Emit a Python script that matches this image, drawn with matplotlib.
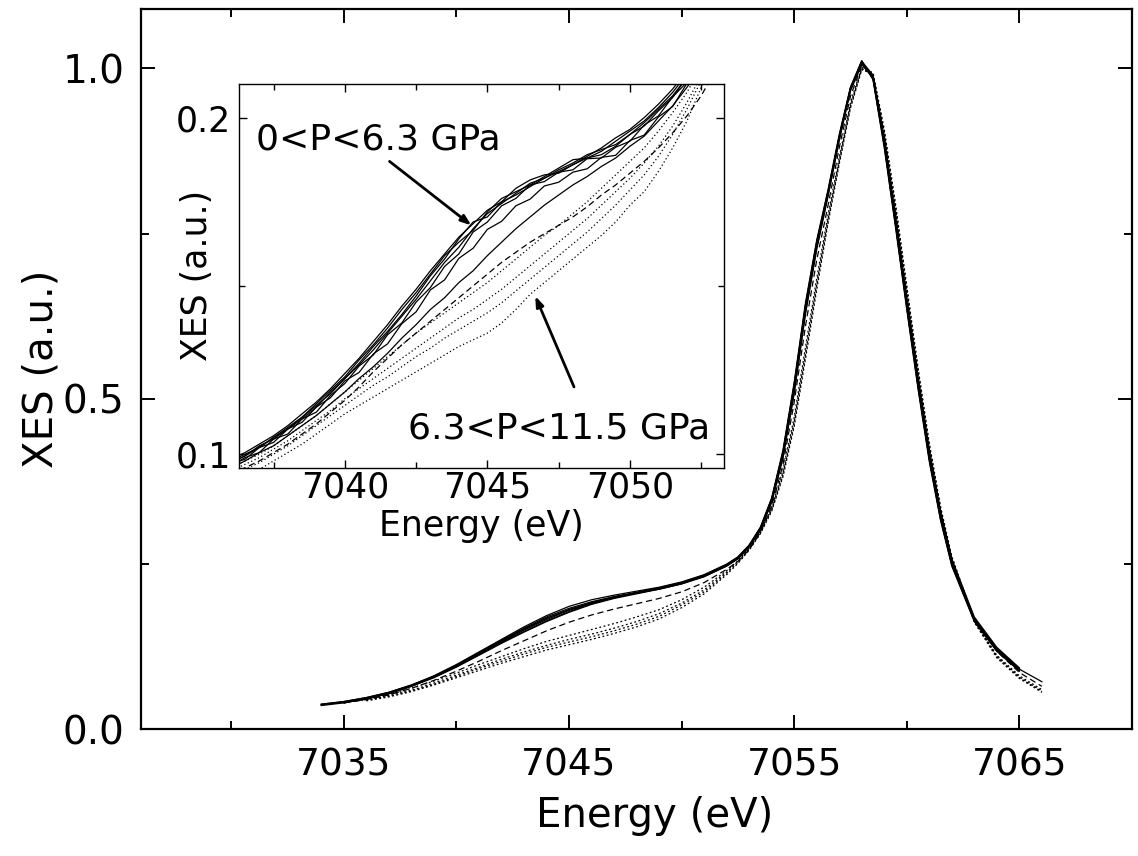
import numpy as np
import matplotlib.pyplot as plt
from matplotlib.ticker import MultipleLocator

plt.rcParams['font.family'] = ['DejaVu Sans']

nan = np.nan

# main panel: energy grid (eV) and normalised XES curves
E_MAIN = [7034, 7035, 7036, 7037, 7038, 7039, 7040, 7041, 7042, 7043, 7044,
          7045, 7046, 7047, 7048, 7049, 7050, 7051, 7052, 7052.5, 7053,
          7053.5, 7054, 7054.5, 7055, 7055.5, 7056, 7056.5, 7057, 7057.5,
          7058, 7058.5, 7059, 7059.5, 7060, 7060.5, 7061, 7061.5, 7062,
          7063, 7064, 7065, 7066]

main_solid = [
    [0.037, 0.041, 0.047, 0.055, 0.066, 0.080, 0.097, 0.116, 0.135, 0.153, 0.170, 0.183, 0.193, 0.201, 0.207, 0.213, 0.221, 0.232,
     0.248, 0.259, 0.277, 0.304, 0.348, 0.418, 0.520, 0.640, 0.735, 0.812, 0.896, 0.970, 1.010, 0.985, 0.885, 0.765, 0.640, 0.520, 0.410, 0.320, 0.250,
     0.165, 0.120, 0.090, nan],
    [0.036, 0.040, 0.046, 0.054, 0.065, 0.078, 0.094, 0.112, 0.130, 0.147, 0.163, 0.177, 0.189, 0.198, 0.205, 0.212, 0.220, 0.231,
     0.247, 0.258, 0.276, 0.302, 0.345, 0.412, 0.510, 0.630, 0.728, 0.808, 0.893, 0.968, 1.008, 0.988, 0.892, 0.772, 0.648, 0.528, 0.418, 0.326, 0.255,
     0.168, 0.122, 0.092, nan],
    [0.038, 0.042, 0.048, 0.056, 0.067, 0.081, 0.098, 0.117, 0.136, 0.155, 0.172, 0.186, 0.196, 0.203, 0.209, 0.215, 0.223, 0.234,
     0.250, 0.261, 0.279, 0.306, 0.350, 0.422, 0.525, 0.645, 0.740, 0.816, 0.900, 0.972, 1.012, 0.983, 0.880, 0.760, 0.635, 0.515, 0.405, 0.316, 0.247,
     0.163, 0.118, 0.088, nan],
    [nan, 0.040, 0.046, 0.054, 0.065, 0.079, 0.095, 0.113, 0.132, 0.150, 0.166, 0.180, 0.190, 0.199, 0.206, 0.213, 0.222, 0.233,
     0.249, 0.260, 0.278, 0.303, 0.346, 0.414, 0.515, 0.635, 0.732, 0.810, 0.894, 0.969, 1.011, 0.990, 0.895, 0.778, 0.655, 0.534, 0.423, 0.330, 0.258,
     0.170, 0.124, 0.093, nan],
    [0.037, 0.041, 0.047, 0.055, 0.066, 0.079, 0.096, 0.114, 0.133, 0.151, 0.168, 0.181, 0.192, 0.200, 0.206, 0.212, 0.220, 0.231,
     0.247, 0.258, 0.276, 0.301, 0.343, 0.410, 0.508, 0.628, 0.726, 0.806, 0.891, 0.966, 1.006, 0.986, 0.890, 0.770, 0.645, 0.525, 0.415, 0.324, 0.253,
     0.166, 0.121, 0.091, 0.072],
    [0.038, 0.042, 0.048, 0.056, 0.067, 0.080, 0.096, 0.113, 0.131, 0.148, 0.164, 0.178, 0.190, 0.199, 0.207, 0.214, 0.222, 0.233,
     0.249, 0.260, 0.278, 0.305, 0.349, 0.420, 0.522, 0.642, 0.738, 0.814, 0.898, 0.971, 1.009, 0.984, 0.883, 0.762, 0.638, 0.518, 0.408, 0.318, 0.248,
     0.164, 0.119, 0.089, nan],
    [nan, 0.041, 0.047, 0.055, 0.066, 0.080, 0.097, 0.115, 0.134, 0.152, 0.168, 0.181, 0.191, 0.200, 0.207, 0.214, 0.222, 0.233,
     0.249, 0.260, 0.278, 0.303, 0.347, 0.416, 0.517, 0.637, 0.733, 0.811, 0.895, 0.969, 1.010, 0.987, 0.888, 0.768, 0.643, 0.523, 0.413, 0.322, 0.252,
     0.166, 0.121, 0.091, nan],
]

main_dashed = [
    [nan, 0.040, 0.045, 0.052, 0.062, 0.074, 0.088, 0.103, 0.119, 0.134, 0.149, 0.162, 0.173, 0.182, 0.190, 0.198, 0.208, 0.222,
     0.242, 0.254, 0.272, 0.298, 0.338, 0.400, 0.495, 0.610, 0.710, 0.792, 0.880, 0.958, 1.005, 0.990, 0.898, 0.780, 0.655, 0.532, 0.420, 0.328, 0.256,
     0.166, 0.118, 0.086, 0.065],
]

main_dotted = [
    [nan, nan, 0.043, 0.049, 0.057, 0.067, 0.078, 0.089, 0.100, 0.110, 0.120, 0.128, 0.136, 0.145, 0.155, 0.167, 0.184, 0.205,
     0.234, 0.251, 0.271, 0.296, 0.330, 0.382, 0.458, 0.560, 0.665, 0.765, 0.855, 0.940, 0.998, 0.992, 0.905, 0.792, 0.668, 0.544, 0.430, 0.335, 0.260,
     0.162, 0.108, 0.077, 0.056],
    [nan, 0.041, 0.045, 0.051, 0.059, 0.070, 0.082, 0.094, 0.106, 0.117, 0.127, 0.136, 0.144, 0.153, 0.163, 0.175, 0.191, 0.211,
     0.238, 0.254, 0.273, 0.298, 0.333, 0.388, 0.466, 0.570, 0.675, 0.772, 0.860, 0.945, 1.000, 0.990, 0.902, 0.788, 0.664, 0.540, 0.427, 0.333, 0.258,
     0.163, 0.110, 0.079, 0.058],
    [nan, nan, 0.044, 0.050, 0.058, 0.068, 0.080, 0.092, 0.103, 0.114, 0.124, 0.132, 0.140, 0.149, 0.159, 0.171, 0.188, 0.208,
     0.236, 0.252, 0.272, 0.297, 0.331, 0.384, 0.462, 0.565, 0.670, 0.768, 0.858, 0.942, 0.999, 0.994, 0.908, 0.795, 0.671, 0.547, 0.433, 0.337, 0.262,
     0.164, 0.110, 0.078, 0.057],
    [nan, 0.040, 0.046, 0.053, 0.062, 0.073, 0.085, 0.098, 0.110, 0.122, 0.133, 0.142, 0.151, 0.160, 0.170, 0.181, 0.196, 0.215,
     0.240, 0.255, 0.274, 0.299, 0.335, 0.392, 0.472, 0.578, 0.682, 0.778, 0.865, 0.948, 1.002, 0.989, 0.899, 0.785, 0.661, 0.538, 0.425, 0.331, 0.257,
     0.164, 0.112, 0.081, 0.060],
]

# inset panel: pre-edge region, as plotted in the inset
E_INSET = [7036.0, 7036.5, 7037.0, 7037.5, 7038.0, 7038.5, 7039.0, 7039.5,
           7040.0, 7040.5, 7041.0, 7041.5, 7042.0, 7042.5, 7043.0, 7043.5,
           7044.0, 7044.5, 7045.0, 7045.5, 7046.0, 7046.5, 7047.0, 7047.5,
           7048.0, 7048.5, 7049.0, 7049.5, 7050.0, 7050.5, 7051.0, 7051.5,
           7052.0, 7052.5, 7053.0]

inset_solid = [
    [0.0975, 0.0995, 0.1025, 0.1045, 0.1075, 0.1105, 0.1140, 0.1185, 0.1225, 0.1270, 0.1320, 0.1365, 0.1415, 0.1470, 0.1530, 0.1580, 0.1640, 0.1690,
     0.1705, 0.1750, 0.1790, 0.1815, 0.1830, 0.1835, 0.1860, 0.1880, 0.1890, 0.1915, 0.1950, 0.1975, 0.2020, 0.2060, 0.2120, 0.2180, 0.2250],
    [0.0965, 0.0990, 0.1005, 0.1045, 0.1060, 0.1105, 0.1125, 0.1175, 0.1210, 0.1262, 0.1295, 0.1355, 0.1390, 0.1452, 0.1495, 0.1558, 0.1595, 0.1660,
     0.1690, 0.1738, 0.1760, 0.1800, 0.1810, 0.1838, 0.1845, 0.1878, 0.1880, 0.1912, 0.1930, 0.1978, 0.2005, 0.2062, 0.2105, 0.2175, 0.2240],
    [0.0980, 0.1000, 0.1020, 0.1050, 0.1080, 0.1110, 0.1150, 0.1190, 0.1230, 0.1280, 0.1325, 0.1375, 0.1430, 0.1480, 0.1535, 0.1590, 0.1630, 0.1665,
     0.1720, 0.1760, 0.1780, 0.1800, 0.1825, 0.1850, 0.1875, 0.1880, 0.1900, 0.1930, 0.1960, 0.1990, 0.2030, 0.2075, 0.2130, 0.2195, 0.2270],
    [0.0972, 0.0985, 0.1020, 0.1035, 0.1075, 0.1095, 0.1140, 0.1168, 0.1218, 0.1243, 0.1298, 0.1328, 0.1388, 0.1423, 0.1488, 0.1518, 0.1582, 0.1612,
     0.1668, 0.1692, 0.1738, 0.1758, 0.1797, 0.1808, 0.1838, 0.1848, 0.1882, 0.1888, 0.1932, 0.1948, 0.2002, 0.2033, 0.2102, 0.2148, 0.2230],
    [0.0975, 0.0995, 0.1020, 0.1050, 0.1075, 0.1110, 0.1145, 0.1180, 0.1225, 0.1265, 0.1310, 0.1360, 0.1410, 0.1460, 0.1515, 0.1570, 0.1615, 0.1670,
     0.1715, 0.1745, 0.1775, 0.1805, 0.1820, 0.1845, 0.1865, 0.1890, 0.1905, 0.1920, 0.1950, 0.1985, 0.2025, 0.2065, 0.2120, 0.2185, 0.2255],
    [0.0960, 0.0980, 0.1005, 0.1025, 0.1055, 0.1085, 0.1115, 0.1150, 0.1185, 0.1225, 0.1260, 0.1300, 0.1345, 0.1385, 0.1430, 0.1465, 0.1510, 0.1545,
     0.1590, 0.1630, 0.1670, 0.1705, 0.1740, 0.1770, 0.1800, 0.1825, 0.1855, 0.1880, 0.1915, 0.1945, 0.1990, 0.2035, 0.2090, 0.2150, 0.2220],
    [0.0985, 0.1005, 0.1030, 0.1055, 0.1085, 0.1120, 0.1155, 0.1195, 0.1240, 0.1285, 0.1335, 0.1385, 0.1440, 0.1490, 0.1545, 0.1595, 0.1645, 0.1685,
     0.1725, 0.1750, 0.1770, 0.1795, 0.1820, 0.1840, 0.1860, 0.1885, 0.1910, 0.1940, 0.1965, 0.2000, 0.2040, 0.2085, 0.2140, 0.2200, 0.2280],
]

inset_dashed = [
    [0.0940, 0.0960, 0.0980, 0.1005, 0.1030, 0.1060, 0.1090, 0.1125, 0.1160, 0.1200, 0.1245, 0.1285, 0.1325, 0.1360, 0.1395, 0.1430, 0.1465, 0.1500,
     0.1535, 0.1570, 0.1600, 0.1630, 0.1655, 0.1680, 0.1705, 0.1735, 0.1770, 0.1800, 0.1835, 0.1870, 0.1910, 0.1955, 0.2005, 0.2065, 0.2140],
]

inset_dotted = [
    [0.0920, 0.0935, 0.0955, 0.0980, 0.1005, 0.1030, 0.1060, 0.1090, 0.1120, 0.1145, 0.1170, 0.1195, 0.1220, 0.1245, 0.1270, 0.1295, 0.1320, 0.1340,
     0.1360, 0.1390, 0.1430, 0.1475, 0.1510, 0.1545, 0.1580, 0.1615, 0.1650, 0.1690, 0.1740, 0.1780, 0.1840, 0.1910, 0.1990, 0.2090, 0.2200],
    [0.0935, 0.0955, 0.0975, 0.1000, 0.1025, 0.1055, 0.1085, 0.1115, 0.1145, 0.1175, 0.1205, 0.1230, 0.1260, 0.1290, 0.1315, 0.1345, 0.1370, 0.1395,
     0.1420, 0.1450, 0.1485, 0.1520, 0.1555, 0.1590, 0.1625, 0.1660, 0.1700, 0.1740, 0.1785, 0.1830, 0.1885, 0.1950, 0.2025, 0.2110, 0.2210],
    [0.0950, 0.0970, 0.0990, 0.1015, 0.1040, 0.1070, 0.1100, 0.1130, 0.1165, 0.1195, 0.1225, 0.1255, 0.1285, 0.1315, 0.1345, 0.1375, 0.1405, 0.1430,
     0.1460, 0.1490, 0.1525, 0.1560, 0.1595, 0.1630, 0.1665, 0.1700, 0.1740, 0.1780, 0.1820, 0.1865, 0.1915, 0.1975, 0.2045, 0.2125, 0.2220],
    [0.0960, 0.0980, 0.1000, 0.1025, 0.1055, 0.1085, 0.1115, 0.1150, 0.1185, 0.1220, 0.1255, 0.1290, 0.1325, 0.1360, 0.1390, 0.1420, 0.1450, 0.1480,
     0.1510, 0.1545, 0.1580, 0.1615, 0.1650, 0.1680, 0.1715, 0.1750, 0.1790, 0.1830, 0.1870, 0.1910, 0.1960, 0.2015, 0.2075, 0.2150, 0.2240],
]

fig = plt.figure(figsize=(11.38, 8.56), dpi=100)

# Main plot
ax = fig.add_axes([0.124, 0.148, 0.8707, 0.8415])
for y in main_solid:
    ax.plot(E_MAIN, y, color='black', lw=0.9, ls='-')
for y in main_dashed:
    ax.plot(E_MAIN, y, color='black', lw=0.9, ls=(0, (5, 3)))
for y in main_dotted:
    ax.plot(E_MAIN, y, color='black', lw=0.9, ls=(0, (1.5, 2)))

ax.set_xlim(7026, 7070)
ax.set_ylim(0, 1.09)
ax.set_xticks([7035, 7045, 7055, 7065])
ax.xaxis.set_minor_locator(MultipleLocator(5))
ax.yaxis.set_major_locator(MultipleLocator(0.5))
ax.yaxis.set_minor_locator(MultipleLocator(0.25))
ax.tick_params(which='both', direction='in', top=True, right=True, width=1.4)
ax.tick_params(which='major', length=10)
ax.tick_params(which='minor', length=6)
ax.tick_params(axis='x', pad=13, labelsize=27)
ax.tick_params(axis='y', pad=12, labelsize=28)
for s in ax.spines.values():
    s.set_linewidth(1.6)
ax.set_xlabel('Energy (eV)', fontsize=29)
ax.set_ylabel('XES (a.u.)', fontsize=29)
ax.xaxis.set_label_coords(0.518, -0.093)
ax.yaxis.set_label_coords(-0.08, 0.5)

# Inset
ins = fig.add_axes([0.2103, 0.4536, 0.4259, 0.4483])
for y in inset_solid:
    ins.plot(E_INSET, y, color='black', lw=0.9, ls='-')
for y in inset_dashed:
    ins.plot(E_INSET, y, color='black', lw=0.9, ls=(0, (5, 3)))
for y in inset_dotted:
    ins.plot(E_INSET, y, color='black', lw=0.9, ls=(0, (1, 2)))

ins.set_xlim(7036.3, 7053.3)
ins.set_ylim(0.096, 0.21)
ins.xaxis.set_major_locator(MultipleLocator(5))
ins.xaxis.set_minor_locator(MultipleLocator(2.5))
ins.yaxis.set_major_locator(MultipleLocator(0.1))
ins.yaxis.set_minor_locator(MultipleLocator(0.05))
ins.tick_params(which='both', direction='in', top=True, right=True, width=1.0)
ins.tick_params(which='major', length=6, labelsize=25)
ins.tick_params(which='minor', length=4)
ins.tick_params(axis='x', pad=2)
ins.tick_params(axis='y', pad=6)
for s in ins.spines.values():
    s.set_linewidth(1.0)
ins.set_xlabel('Energy (eV)', fontsize=25)
ins.set_ylabel('XES (a.u.)', fontsize=25)
ins.xaxis.set_label_coords(0.5, -0.108)
ins.yaxis.set_label_coords(-0.052, 0.5)

arrow = dict(arrowstyle='-|>,head_length=0.6,head_width=0.22', color='black',
             lw=2, shrinkA=0, shrinkB=0)
ins.annotate('', xy=(7044.44, 0.168), xytext=(7041.57, 0.187), arrowprops=arrow)
ins.annotate('', xy=(7046.68, 0.147), xytext=(7048.04, 0.120), arrowprops=arrow)
ins.text(7036.9, 0.1905, '0<P<6.3 GPa', fontsize=26, ha='left', va='baseline')
ins.text(7052.8, 0.1048, '6.3<P<11.5 GPa', fontsize=26, ha='right', va='baseline')

fig.savefig('out.png', dpi=100)
